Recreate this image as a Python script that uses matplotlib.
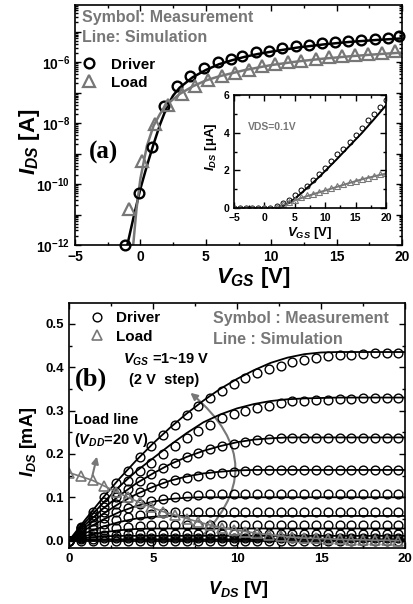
import matplotlib
matplotlib.use("Agg")
import matplotlib.pyplot as plt
from matplotlib.lines import Line2D
from matplotlib.patches import FancyArrowPatch
from matplotlib.ticker import FixedLocator, FuncFormatter, MultipleLocator, LogLocator, NullFormatter
import numpy as np

plt.rcParams['font.family'] = ['Liberation Sans', 'DejaVu Sans']
plt.rcParams['font.weight'] = 'bold'
plt.rcParams['mathtext.fontset'] = 'custom'
plt.rcParams['mathtext.rm'] = 'Liberation Sans:bold'
plt.rcParams['mathtext.bf'] = 'Liberation Sans:bold'
plt.rcParams['mathtext.it'] = 'Liberation Sans:italic:bold'
plt.rcParams['axes.linewidth'] = 1.2

GRAY = '#777777'

# ---- (a) transfer curves (log scale) ----
vgs_drv_meas = [-1.2, -0.1, 0.9, 1.8, 2.8, 3.8, 4.9, 5.9, 6.9, 7.8, 8.8, 9.8, 10.8, 11.9,
                12.9, 13.9, 14.9, 15.9, 16.9, 17.9, 18.9, 19.8]
ids_drv_meas = [1.0e-12, 5.2e-11, 1.7e-9, 3.6e-8, 1.6e-7, 3.5e-7, 6.3e-7, 1.0e-6, 1.26e-6,
                1.6e-6, 2.1e-6, 2.4e-6, 2.8e-6, 3.3e-6, 3.75e-6, 4.2e-6, 4.6e-6, 5.0e-6,
                5.4e-6, 5.65e-6, 6.1e-6, 7.1e-6]
vgs_load_meas = [-0.9, 0.1, 1.1, 2.1, 3.2, 4.2, 5.2, 6.2, 7.2, 8.3, 9.3, 10.3, 11.3, 12.3,
                 13.4, 14.4, 15.4, 16.4, 17.4, 18.5, 19.5]
ids_load_meas = [1.5e-11, 5.8e-10, 9.5e-9, 3.9e-8, 9.3e-8, 1.64e-7, 2.6e-7, 3.5e-7, 4.5e-7,
                 5.6e-7, 7.2e-7, 8.4e-7, 9.8e-7, 1.1e-6, 1.25e-6, 1.43e-6, 1.54e-6, 1.66e-6,
                 1.84e-6, 1.99e-6, 2.25e-6]
vgs_drv_sim = [-1.0, -0.5, 0, 0.5, 1, 1.5, 2, 2.5, 3, 4, 5, 6, 7, 8, 9, 10, 12, 14, 16, 18, 20]
ids_drv_sim = [1e-12, 9e-12, 7e-11, 4e-10, 2e-9, 9e-9, 3.2e-8, 8e-8, 1.45e-7, 3.2e-7, 5.5e-7,
               8.5e-7, 1.15e-6, 1.5e-6, 1.85e-6, 2.2e-6, 3.0e-6, 3.8e-6, 4.6e-6, 5.3e-6, 6.0e-6]
vgs_load_sim = [-0.55, -0.3, 0, 0.5, 1, 1.5, 2, 3, 4, 5, 6, 8, 10, 12, 14, 16, 18, 20]
ids_load_sim = [1e-12, 1.5e-11, 1.5e-10, 1.8e-9, 8e-9, 2e-8, 4e-8, 9e-8, 1.6e-7, 2.5e-7,
                3.4e-7, 5.5e-7, 8e-7, 1.05e-6, 1.3e-6, 1.55e-6, 1.8e-6, 2.05e-6]

# ---- (a) inset, VDS = 0.1 V (uA) ----
vgs_in_meas = [-5, -4, -3, -2, -1, 0, 1, 2, 3, 4, 5, 6, 7, 8, 9, 10, 11, 12, 13, 14, 15, 16,
               17, 18, 19, 20]
ids_in_drv = [0, 0, 0, 0, 0, 0, 0.02, 0.12, 0.28, 0.45, 0.70, 0.95, 1.18, 1.50, 1.80, 2.10,
              2.48, 2.85, 3.15, 3.52, 3.88, 4.23, 4.65, 5.00, 5.38, 5.75]
ids_in_load = [0, 0, 0, 0, 0, 0, 0.02, 0.08, 0.20, 0.33, 0.45, 0.56, 0.67, 0.77, 0.87, 0.97,
               1.07, 1.17, 1.27, 1.36, 1.45, 1.54, 1.62, 1.70, 1.79, 1.87]
vgs_in_sim = [-5, 0, 2, 2.5, 3, 4, 5, 6, 7, 8, 9, 10, 12, 14, 16, 18, 20]
ids_in_drv_sim = [0, 0, 0, 0.03, 0.10, 0.27, 0.50, 0.77, 1.06, 1.35, 1.65, 1.97, 2.62, 3.30,
                  3.97, 4.70, 5.45]
ids_in_load_sim = [0, 0, 0, 0.06, 0.13, 0.27, 0.40, 0.52, 0.63, 0.73, 0.83, 0.93, 1.13, 1.33,
                   1.52, 1.68, 1.83]

# ---- (b) output curves, VGS = 1..19 V (2 V step) ----
vds_meas = [0, 0.7, 1.4, 2.1, 2.8, 3.5, 4.2, 4.9, 5.6, 6.3, 7.0, 7.7, 8.4, 9.1, 9.8, 10.5,
            11.2, 11.9, 12.6, 13.3, 14.0, 14.7, 15.4, 16.1, 16.8, 17.5, 18.2, 18.9, 19.6]
meas_19 = [0, 0.032, 0.066, 0.100, 0.132, 0.160, 0.192, 0.218, 0.244, 0.267, 0.290, 0.310,
           0.329, 0.346, 0.361, 0.375, 0.386, 0.395, 0.403, 0.411, 0.417, 0.422, 0.425, 0.427,
           0.429, 0.431, 0.432, 0.432, 0.433]
meas_17 = [0, 0.030, 0.060, 0.088, 0.113, 0.137, 0.160, 0.180, 0.200, 0.218, 0.236, 0.252,
           0.267, 0.282, 0.292, 0.299, 0.305, 0.311, 0.317, 0.321, 0.322, 0.324, 0.325, 0.326,
           0.327, 0.328, 0.328, 0.328, 0.328]
meas_15 = [0, 0.028, 0.054, 0.078, 0.100, 0.119, 0.137, 0.153, 0.167, 0.180, 0.192, 0.202,
           0.211, 0.218, 0.223, 0.228, 0.231, 0.234, 0.236, 0.237, 0.237, 0.237, 0.237, 0.237,
           0.237, 0.237, 0.237, 0.237, 0.237]
meas_13 = [0, 0.024, 0.046, 0.066, 0.084, 0.099, 0.112, 0.123, 0.132, 0.139, 0.145, 0.150,
           0.153, 0.156, 0.159, 0.161, 0.163, 0.163, 0.164, 0.164, 0.164, 0.164, 0.164, 0.164,
           0.164, 0.164, 0.164, 0.164, 0.164]
meas_11 = [0, 0.019, 0.037, 0.052, 0.065, 0.076, 0.085, 0.092, 0.097, 0.101, 0.104, 0.106,
           0.107, 0.107, 0.107, 0.107, 0.107, 0.107, 0.107, 0.107, 0.107, 0.107, 0.107, 0.107,
           0.107, 0.107, 0.107, 0.107, 0.107]
meas_9 = [0, 0.014, 0.027, 0.038, 0.047, 0.054, 0.059, 0.062, 0.064, 0.065, 0.066, 0.066,
          0.066, 0.066, 0.066, 0.066, 0.066, 0.066, 0.066, 0.066, 0.066, 0.066, 0.066, 0.066,
          0.066, 0.066, 0.066, 0.066, 0.066]
meas_7 = [0, 0.009, 0.017, 0.024, 0.029, 0.032, 0.034, 0.035, 0.035, 0.035, 0.035, 0.035,
          0.035, 0.035, 0.035, 0.035, 0.035, 0.035, 0.035, 0.035, 0.035, 0.035, 0.035, 0.035,
          0.035, 0.035, 0.035, 0.035, 0.035]
meas_5 = [0, 0.006, 0.010, 0.013, 0.014, 0.015, 0.015, 0.015, 0.015, 0.015, 0.015, 0.015,
          0.015, 0.015, 0.015, 0.015, 0.015, 0.015, 0.015, 0.015, 0.015, 0.015, 0.015, 0.015,
          0.015, 0.015, 0.015, 0.015, 0.015]
meas_3 = [0, 0.003, 0.004, 0.005, 0.005, 0.005, 0.005, 0.005, 0.005, 0.005, 0.005, 0.005,
          0.005, 0.005, 0.005, 0.005, 0.005, 0.005, 0.005, 0.005, 0.005, 0.005, 0.005, 0.005,
          0.005, 0.005, 0.005, 0.005, 0.005]
meas_1 = [0, 0, 0, 0, 0, 0, 0, 0, 0, 0, 0, 0, 0, 0, 0, 0, 0, 0, 0, 0, 0, 0, 0, 0, 0, 0, 0, 0, 0]

vds_sim = [0, 1, 2, 3, 4, 5, 6, 7, 8, 9, 10, 11, 12, 13, 14, 15, 16, 17, 18, 19, 20]
sim_19 = [0, 0.050, 0.098, 0.143, 0.185, 0.224, 0.260, 0.293, 0.323, 0.350, 0.373, 0.393,
          0.410, 0.422, 0.430, 0.434, 0.435, 0.435, 0.435, 0.435, 0.435]
sim_17 = [0, 0.044, 0.086, 0.125, 0.160, 0.190, 0.220, 0.248, 0.273, 0.291, 0.305, 0.315,
          0.322, 0.326, 0.328, 0.329, 0.330, 0.330, 0.330, 0.330, 0.330]
sim_15 = [0, 0.038, 0.073, 0.104, 0.132, 0.155, 0.176, 0.193, 0.207, 0.218, 0.227, 0.233,
          0.236, 0.238, 0.238, 0.238, 0.238, 0.238, 0.238, 0.238, 0.238]
sim_13 = [0, 0.032, 0.061, 0.086, 0.107, 0.124, 0.138, 0.148, 0.155, 0.159, 0.162, 0.163,
          0.163, 0.163, 0.163, 0.163, 0.163, 0.163, 0.163, 0.163, 0.163]
sim_11 = [0, 0.026, 0.048, 0.066, 0.080, 0.090, 0.096, 0.099, 0.100, 0.100, 0.100, 0.100,
          0.100, 0.100, 0.100, 0.100, 0.100, 0.100, 0.100, 0.100, 0.100]
sim_9 = [0, 0.018, 0.032, 0.043, 0.051, 0.055, 0.057, 0.057, 0.057, 0.057, 0.057, 0.057,
         0.057, 0.057, 0.057, 0.057, 0.057, 0.057, 0.057, 0.057, 0.057]
sim_7 = [0, 0.011, 0.019, 0.024, 0.027, 0.028, 0.028, 0.028, 0.028, 0.028, 0.028, 0.028,
         0.028, 0.028, 0.028, 0.028, 0.028, 0.028, 0.028, 0.028, 0.028]
sim_5 = [0, 0.006, 0.010, 0.011, 0.011, 0.011, 0.011, 0.011, 0.011, 0.011, 0.011, 0.011,
         0.011, 0.011, 0.011, 0.011, 0.011, 0.011, 0.011, 0.011, 0.011]
sim_3 = [0, 0.002, 0.003, 0.003, 0.003, 0.003, 0.003, 0.003, 0.003, 0.003, 0.003, 0.003,
         0.003, 0.003, 0.003, 0.003, 0.003, 0.003, 0.003, 0.003, 0.003]
sim_1 = [0, 0, 0, 0, 0, 0, 0, 0, 0, 0, 0, 0, 0, 0, 0, 0, 0, 0, 0, 0, 0]

load_line = [0.157, 0.148, 0.139, 0.126, 0.113, 0.100, 0.088, 0.077, 0.067, 0.059, 0.051,
             0.043, 0.036, 0.030, 0.025, 0.021, 0.017, 0.014, 0.011, 0.008, 0.006, 0.005,
             0.004, 0.003, 0.002, 0.002, 0.001, 0.001, 0.000]

meas_all = [meas_19, meas_17, meas_15, meas_13, meas_11, meas_9, meas_7, meas_5, meas_3, meas_1]
sim_all = [sim_19, sim_17, sim_15, sim_13, sim_11, sim_9, sim_7, sim_5, sim_3, sim_1]


def style_ticks(ax, size):
    ax.tick_params(which='both', direction='in', top=True, right=True, labelsize=size, width=1.0)
    ax.tick_params(which='major', length=4.5)
    ax.tick_params(which='minor', length=2.5)
    for t in ax.get_xticklabels() + ax.get_yticklabels():
        t.set_fontweight('bold')


fig = plt.figure(figsize=(4.13, 6.04), dpi=100)

# ================= (a) =================
ax1 = fig.add_axes([0.1816, 0.5944, 0.7918, 0.3974])
ax1.plot(vgs_drv_sim, ids_drv_sim, '-', color='black', lw=1.8)
ax1.plot(vgs_load_sim, ids_load_sim, '-', color=GRAY, lw=1.8)
ax1.plot(vgs_drv_meas, ids_drv_meas, 'o', mfc='none', mec='black', ms=7, mew=1.7, clip_on=False)
ax1.plot(vgs_load_meas, ids_load_meas, '^', mfc='none', mec=GRAY, ms=8, mew=1.6, clip_on=False)
ax1.set_yscale('log')
ax1.set_xlim(-5, 20)
ax1.set_ylim(1e-12, 7.5e-5)
ax1.xaxis.set_major_locator(MultipleLocator(5))
ax1.xaxis.set_minor_locator(MultipleLocator(2.5))
ax1.yaxis.set_major_locator(FixedLocator([10.0 ** e for e in range(-12, -4)]))
ax1.yaxis.set_major_formatter(FuncFormatter(
    lambda v, p: r'$10^{%d}$' % round(np.log10(v)) if round(np.log10(v)) % 2 == 0 else ''))
ax1.yaxis.set_minor_locator(LogLocator(base=10, subs=np.arange(2, 10), numticks=20))
ax1.yaxis.set_minor_formatter(NullFormatter())
style_ticks(ax1, 10)
ax1.set_xlabel(r'$V_{GS}$ [V]', fontsize=16, fontweight='bold')
ax1.set_ylabel(r'$I_{DS}$ [A]', fontsize=16, fontweight='bold')
ax1.xaxis.set_label_coords(0.545, -0.085)
ax1.yaxis.set_label_coords(-0.1, 0.43)

ax1.text(-4.45, 3.0e-5, 'Symbol: Measurement', color=GRAY, fontsize=11.5, fontweight='bold', va='center')
ax1.text(-4.45, 6.2e-6, 'Line: Simulation', color=GRAY, fontsize=11.5, fontweight='bold', va='center')
ax1.text(-3.95, 1.05e-9, '(a)', family='Liberation Serif', fontsize=18, fontweight='bold', va='center')
h_drv = Line2D([], [], ls='none', marker='o', mfc='none', mec='black', ms=7, mew=1.7)
h_load = Line2D([], [], ls='none', marker='^', mfc='none', mec=GRAY, ms=8, mew=1.6)
ax1.legend([h_drv, h_load], ['Driver', 'Load'], loc='upper left', bbox_to_anchor=(0.02, 0.78),
           frameon=False, borderpad=0, borderaxespad=0, handlelength=1.0, handletextpad=0.9,
           labelspacing=0.25, prop={'size': 11, 'weight': 'bold'})

# inset
axi = fig.add_axes([0.5666, 0.6556, 0.368, 0.1871])
axi.plot(vgs_in_sim, ids_in_drv_sim, '-', color='black', lw=1.4)
axi.plot(vgs_in_sim, ids_in_load_sim, '-', color=GRAY, lw=1.4)
axi.plot(vgs_in_meas, ids_in_drv, 'o', mfc='none', mec='black', ms=3.6, mew=0.7)
axi.plot(vgs_in_meas, ids_in_load, '^', mfc='none', mec=GRAY, ms=4.2, mew=0.8)
axi.set_xlim(-5, 20)
axi.set_ylim(0, 6)
axi.xaxis.set_major_locator(MultipleLocator(5))
axi.xaxis.set_minor_locator(MultipleLocator(2.5))
axi.yaxis.set_major_locator(MultipleLocator(2))
axi.yaxis.set_minor_locator(MultipleLocator(1))
style_ticks(axi, 7.5)
axi.tick_params(axis='x', which='both', pad=3.5)
axi.tick_params(axis='y', which='both', pad=3)
axi.set_xlabel(r'$V_{GS}$ [V]', fontsize=9.5, fontweight='bold')
axi.set_ylabel(r'$I_{DS}$ [$\mathrm{\mu}$A]', fontsize=9.5, fontweight='bold')
axi.xaxis.set_label_coords(0.5, -0.15)
axi.yaxis.set_label_coords(-0.1, 0.54)
axi.text(-2.75, 4.28, 'VDS=0.1V', color=GRAY, fontsize=7.5, fontweight='bold', va='center')

# ================= (b) =================
ax2 = fig.add_axes([0.1671, 0.0927, 0.8136, 0.4056])
for s in sim_all:
    ax2.plot(vds_sim, s, '-', color='black', lw=1.3)
for m in meas_all:
    ax2.plot(vds_meas, m, 'o', mfc='none', mec='black', ms=6.3, mew=1.0)
ax2.plot(vds_meas, load_line, '-', color=GRAY, lw=1.2)
ax2.plot(vds_meas, load_line, '^', mfc='none', mec=GRAY, ms=7, mew=1.2)
ax2.set_xlim(0, 20)
ax2.set_ylim(-0.017, 0.548)
ax2.xaxis.set_major_locator(MultipleLocator(5))
ax2.xaxis.set_minor_locator(MultipleLocator(2.5))
ax2.yaxis.set_major_locator(MultipleLocator(0.1))
ax2.yaxis.set_minor_locator(MultipleLocator(0.05))
ax2.yaxis.set_major_formatter(FuncFormatter(lambda v, p: '%.1f' % v))
style_ticks(ax2, 9.5)
ax2.set_xlabel(r'$V_{DS}$ [V]', fontsize=13, fontweight='bold')
ax2.set_ylabel(r'$I_{DS}$ [mA]', fontsize=13, fontweight='bold')
ax2.xaxis.set_label_coords(0.504, -0.125)
ax2.yaxis.set_label_coords(-0.09, 0.434)

ax2.text(8.6, 0.513, 'Symbol : Measurement', color=GRAY, fontsize=11.5, fontweight='bold', va='center')
ax2.text(8.6, 0.465, 'Line : Simulation', color=GRAY, fontsize=11.5, fontweight='bold', va='center')
ax2.text(0.35, 0.371, '(b)', family='Liberation Serif', fontsize=19, fontweight='bold', va='center')
ax2.text(3.2, 0.417, r'$V_{GS}$ =1~19 V', fontsize=10.5, fontweight='bold', va='center')
ax2.text(3.6, 0.371, '(2 V  step)', fontsize=10.5, fontweight='bold', va='center')
ax2.text(0.3, 0.278, 'Load line', fontsize=10.5, fontweight='bold', va='center')
ax2.text(0.3, 0.232, r'($V_{DD}$=20 V)', fontsize=10.5, fontweight='bold', va='center')

ax2.add_patch(FancyArrowPatch((7.3, -0.013), (7.1, 0.345), connectionstyle='arc3,rad=0.58',
                              arrowstyle='-|>', mutation_scale=10, lw=1.5, color=GRAY))
ax2.annotate('', xy=(1.7, 0.2), xytext=(1.35, 0.143),
             arrowprops=dict(arrowstyle='-|>', color=GRAY, lw=1.5, mutation_scale=10))

h_drv2 = Line2D([], [], ls='none', marker='o', mfc='none', mec='black', ms=6.3, mew=1.0)
h_load2 = Line2D([], [], ls='none', marker='^', mfc='none', mec=GRAY, ms=7, mew=1.2)
ax2.legend([h_drv2, h_load2], ['Driver', 'Load'], loc='upper left', bbox_to_anchor=(0.062, 0.967),
           frameon=False, borderpad=0, borderaxespad=0, handlelength=1.0, handletextpad=0.7,
           labelspacing=0.3, prop={'size': 11, 'weight': 'bold'})

fig.savefig('out.png', dpi=100)
